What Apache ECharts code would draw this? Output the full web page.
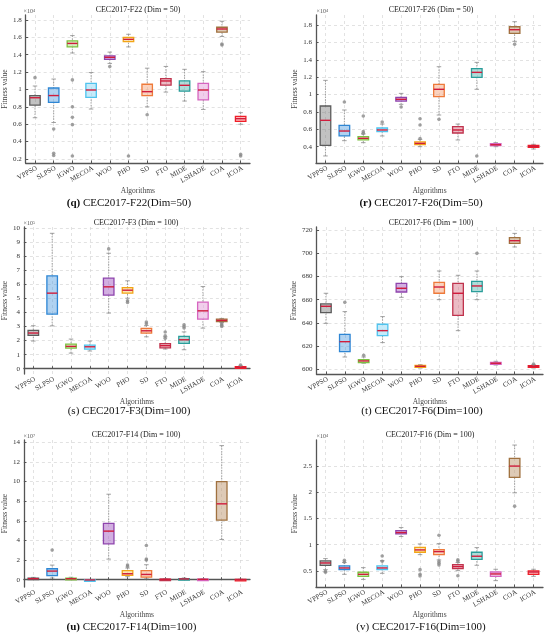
<!DOCTYPE html>
<html>
<head>
<meta charset="utf-8">
<script src="https://cdn.jsdelivr.net/npm/echarts@6/dist/echarts.min.js"></script>
<style>
  html, body { margin: 0; padding: 0; background: #fff; }
  #chart { width: 550px; height: 639px; }
</style>
</head>
<body>
<div id="chart"></div>
<script>
// algorithm names, x axis categories
var algorithms = ['VPPSO', 'SLPSO', 'IGWO', 'MECOA', 'WOO', 'PHO', 'SD', 'FTO', 'MIDE', 'LSHADE', 'COA', 'ICOA'];
var algoPos = [1, 2, 3, 4, 5, 6, 7, 8, 9, 10, 11, 12];

// box stats per algorithm: [lower whisker, Q1, median, Q3, upper whisker]
var f22Stats = [
  [0.675, 0.82, 0.905, 0.93, 1.04], [0.62, 0.852, 0.93, 1.017, 1.12], [1.42, 1.49, 1.53, 1.56, 1.62],
  [0.775, 0.91, 0.994, 1.07, 1.195], [1.30, 1.347, 1.37, 1.386, 1.43], [1.49, 1.55, 1.577, 1.60, 1.635],
  [0.80, 0.93, 0.975, 1.06, 1.245], [0.97, 1.05, 1.098, 1.125, 1.265], [0.867, 0.98, 1.048, 1.10, 1.232],
  [0.77, 0.88, 0.994, 1.07, 1.205], [1.61, 1.66, 1.696, 1.716, 1.785], [0.60, 0.633, 0.664, 0.69, 0.733]
];
var f22Outliers = [[1, 1.136], [2, 0.545], [2, 0.265], [2, 0.24], [3, 1.11], [3, 0.80], [3, 0.68], [3, 0.595],
  [3, 0.234], [5, 1.263], [6, 0.234], [7, 0.71], [11, 1.524], [11, 1.512], [12, 0.253], [12, 0.234]];
var f22Ticks = [0.2, 0.4, 0.6, 0.8, 1, 1.2, 1.4, 1.6, 1.8];

var f26Stats = [
  [0.293, 0.415, 0.703, 0.868, 1.163], [0.469, 0.523, 0.58, 0.645, 0.822], [0.446, 0.477, 0.496, 0.515, 0.546],
  [0.523, 0.573, 0.592, 0.615, 0.66], [0.887, 0.925, 0.945, 0.968, 1.013], [0.40, 0.423, 0.438, 0.454, 0.484],
  [0.764, 0.975, 1.06, 1.117, 1.32], [0.477, 0.557, 0.592, 0.63, 0.66], [1.06, 1.198, 1.255, 1.297, 1.37],
  [0.40, 0.411, 0.422, 0.434, 0.446], [1.612, 1.704, 1.746, 1.78, 1.838], [0.373, 0.392, 0.404, 0.415, 0.427]
];
var f26Outliers = [[2, 0.914], [3, 0.753], [3, 0.573], [3, 0.553], [4, 0.684], [5, 0.856], [6, 0.722], [6, 0.65],
  [6, 0.492], [7, 0.714], [9, 0.293], [11, 1.578]];
var f26Ticks = [0.4, 0.6, 0.8, 1, 1.2, 1.4, 1.6, 1.8];

var f3Stats = [
  [1.97, 2.37, 2.54, 2.73, 3.06], [3.05, 3.89, 5.38, 6.61, 9.64], [1.11, 1.47, 1.59, 1.75, 2.11],
  [1.26, 1.40, 1.56, 1.68, 1.97], [3.96, 5.24, 5.83, 6.45, 8.22], [5.02, 5.38, 5.59, 5.78, 6.26],
  [2.27, 2.54, 2.70, 2.87, 3.08], [1.40, 1.49, 1.64, 1.78, 2.27], [1.35, 1.80, 2.06, 2.30, 2.62],
  [2.89, 3.53, 4.12, 4.74, 5.85], [3.29, 3.36, 3.44, 3.53, 3.58], [0.02, 0.05, 0.095, 0.14, 0.21]
];
var f3Outliers = [[5, 8.53], [6, 4.83], [6, 4.72], [7, 3.32], [7, 3.2], [8, 2.61], [8, 2.35], [8, 2.16],
  [9, 3.13], [9, 3.01], [9, 2.9], [11, 3.2], [11, 3.1], [11, 3.0], [12, 0.26]];
var f3Ticks = [0, 1, 2, 3, 4, 5, 6, 7, 8, 9, 10];

var f6Stats = [
  [639.6, 648.8, 654.3, 656.3, 665.5], [610.6, 615.2, 623.8, 630.1, 649.7], [605.2, 605.7, 607.2, 608.3, 610.6],
  [623, 629, 633.3, 638.8, 645.4], [662, 666.6, 669.8, 674.1, 679.8], [601.1, 601.7, 602.6, 603.4, 604],
  [660, 665.5, 670.9, 674.9, 684.7], [633.3, 646.5, 665.5, 674, 681], [660, 666.9, 671.8, 675.8, 684.7],
  [603.7, 604.3, 605.2, 606, 606.9], [705.4, 708.5, 710.8, 713.4, 717.1], [601.1, 601.7, 602.6, 603.2, 604]
];
var f6Outliers = [[2, 657.7], [3, 612], [9, 699.9], [12, 604.6]];
var f6Ticks = [600, 620, 640, 660, 680, 700, 720];

var f14Stats = [
  [0.03, 0.07, 0.11, 0.16, 0.24], [0.17, 0.41, 0.88, 1.12, 1.49], [0.02, 0.06, 0.1, 0.15, 0.25],
  [-0.06, -0.04, -0.02, 0.0, 0.02], [2.1, 3.66, 4.95, 5.73, 8.71], [0.31, 0.44, 0.61, 0.92, 1.19],
  [0.1, 0.27, 0.54, 0.92, 1.53], [0.0, 0.02, 0.04, 0.07, 0.1], [0.02, 0.05, 0.08, 0.12, 0.18],
  [0.0, 0.02, 0.04, 0.07, 0.1], [4.1, 6.07, 7.73, 10.0, 13.66], [-0.03, -0.01, 0.01, 0.03, 0.05]
];
var f14Outliers = [[2, 3.02], [6, 1.49], [6, 1.36], [7, 3.49], [7, 2.1], [7, 2.0]];
var f14Ticks = [0, 2, 4, 6, 8, 10, 12, 14];

var f16Stats = [
  [0.525, 0.608, 0.652, 0.69, 0.735], [0.436, 0.525, 0.557, 0.595, 0.66], [0.34, 0.398, 0.436, 0.475, 0.563],
  [0.455, 0.525, 0.557, 0.595, 0.697], [1.154, 1.205, 1.23, 1.268, 1.325], [0.81, 0.856, 0.9, 0.95, 1.014],
  [0.71, 0.81, 0.868, 0.906, 1.02], [0.506, 0.544, 0.583, 0.62, 0.66], [0.608, 0.722, 0.78, 0.856, 0.944],
  [0.316, 0.398, 0.443, 0.48, 0.532], [1.986, 2.278, 2.494, 2.64, 2.894], [0.398, 0.436, 0.48, 0.5, 0.532]
];
var f16Outliers = [[1, 0.494], [1, 0.475], [2, 0.703], [2, 0.67], [4, 0.785], [4, 0.684], [6, 0.525], [6, 0.436],
  [6, 0.405], [7, 1.18], [7, 0.678], [7, 0.646], [7, 0.614], [8, 0.71], [8, 0.69], [8, 0.41], [11, 1.732]];
var f16Ticks = [0.5, 1, 1.5, 2, 2.5];

// box colours: border, fill
var boxLine = ['#5c5c5c', '#2e86d4', '#7cc242', '#4fc3ee', '#8e44ad', '#f2a516', '#ee7a3a', '#c0334d',
  '#2a9d9a', '#d665c0', '#a0713f', '#f01e28'];
var boxFill = ['rgba(120,120,120,0.45)', 'rgba(80,155,225,0.45)', 'rgba(175,220,130,0.5)', 'rgba(140,215,245,0.5)',
  'rgba(165,95,195,0.5)', 'rgba(250,205,110,0.5)', 'rgba(245,165,125,0.5)', 'rgba(210,105,125,0.45)',
  'rgba(95,185,180,0.5)', 'rgba(230,165,220,0.55)', 'rgba(190,150,110,0.5)', 'rgba(255,115,115,0.5)'];

var FONT = 'Liberation Serif';

var panels = [
  { stats: f22Stats, out: f22Outliers, ticks: f22Ticks, min: 0.154, max: 1.857, exp: '×10⁴',
    title: 'CEC2017-F22 (Dim = 50)', tag: 'q', cap: ' CEC2017-F22(Dim=50)', bold: true,
    grid: [23, 15, 227, 148], tx: 138, ty: 10, cx: 129, cy: 203 },
  { stats: f26Stats, out: f26Outliers, ticks: f26Ticks, min: 0.212, max: 1.915, exp: '×10⁴',
    title: 'CEC2017-F26 (Dim = 50)', tag: 'r', cap: ' CEC2017-F26(Dim=50)', bold: true,
    grid: [316, 15, 227, 148], tx: 431, ty: 10, cx: 421, cy: 203 },
  { stats: f3Stats, out: f3Outliers, ticks: f3Ticks, min: -0.377, max: 10.09, exp: '×10⁵',
    title: 'CEC2017-F3 (Dim = 100)', tag: 's', cap: ' CEC2017-F3(Dim=100)', bold: false,
    grid: [23, 227, 227, 147], tx: 136, ty: 222.5, cx: 129, cy: 411.5 },
  { stats: f6Stats, out: f6Outliers, ticks: f6Ticks, min: 595.95, max: 722.6, exp: '',
    title: 'CEC2017-F6 (Dim = 100)', tag: 't', cap: ' CEC2017-F6(Dim=100)', bold: false,
    grid: [316.5, 227, 226.5, 147], tx: 431, ty: 222.5, cx: 422, cy: 411 },
  { stats: f14Stats, out: f14Outliers, ticks: f14Ticks, min: -0.74, max: 14.23, exp: '×10⁷',
    title: 'CEC2017-F14 (Dim = 100)', tag: 'u', cap: ' CEC2017-F14(Dim=100)', bold: true,
    grid: [23, 440, 227, 147], tx: 136, ty: 435, cx: 131.5, cy: 627 },
  { stats: f16Stats, out: f16Outliers, ticks: f16Ticks, min: 0.195, max: 2.99, exp: '×10⁴',
    title: 'CEC2017-F16 (Dim = 100)', tag: 'v', cap: ' CEC2017-F16(Dim=100)', bold: false,
    grid: [316, 440, 227, 147], tx: 430, ty: 435, cx: 421, cy: 627 }
];

function renderBox(params, api) {
  var x = api.value(0);
  var lo = api.coord([x, api.value(1)]);
  var q1 = api.coord([x, api.value(2)]);
  var md = api.coord([x, api.value(3)]);
  var q3 = api.coord([x, api.value(4)]);
  var hi = api.coord([x, api.value(5)]);
  var bw = api.size([0.56, 0])[0];
  var cw = api.size([0.24, 0])[0];
  var i = x - 1;
  var whisk = { stroke: '#8a8a8a', lineWidth: 0.8, lineDash: [1.5, 1.2] };
  var cap = { stroke: '#8a8a8a', lineWidth: 0.8 };
  return {
    type: 'group',
    children: [
      { type: 'line', shape: { x1: hi[0], y1: hi[1], x2: q3[0], y2: q3[1] }, style: whisk },
      { type: 'line', shape: { x1: lo[0], y1: lo[1], x2: q1[0], y2: q1[1] }, style: whisk },
      { type: 'line', shape: { x1: hi[0] - cw / 2, y1: hi[1], x2: hi[0] + cw / 2, y2: hi[1] }, style: cap },
      { type: 'line', shape: { x1: lo[0] - cw / 2, y1: lo[1], x2: lo[0] + cw / 2, y2: lo[1] }, style: cap },
      { type: 'rect', shape: { x: q3[0] - bw / 2, y: q3[1], width: bw, height: Math.max(q1[1] - q3[1], 1.5) },
        style: { fill: boxFill[i], stroke: boxLine[i], lineWidth: 1.3 } },
      { type: 'line', shape: { x1: md[0] - bw / 2, y1: md[1], x2: md[0] + bw / 2, y2: md[1] },
        style: { stroke: '#d01c3c', lineWidth: 1.4 } }
    ]
  };
}

var myChart = echarts.init(document.getElementById('chart'));
var option = {
  backgroundColor: '#fff',
  animation: false,
  grid: [], xAxis: [], yAxis: [], series: [], graphic: []
};

var gridLine = { show: true, lineStyle: { type: [3, 3], color: '#d6d6d6', width: 0.7 } };

panels.forEach(function (p, k) {
  option.grid.push({ left: p.grid[0], top: p.grid[1], width: p.grid[2], height: p.grid[3] });
  option.xAxis.push({
    gridIndex: k, type: 'value', min: 0.5, max: 12.5,
    name: 'Algorithms', nameLocation: 'middle', nameGap: 23,
    nameTextStyle: { fontFamily: FONT, fontSize: 7.5, color: '#444' },
    axisLine: { lineStyle: { color: '#555', width: 1.3 } },
    axisTick: { inside: true, length: 2.5, lineStyle: { color: '#555' }, customValues: algoPos },
    axisLabel: {
      rotate: 30, margin: 1.5, fontFamily: FONT, fontSize: 7, color: '#333',
      align: 'right', verticalAlign: 'top',
      customValues: algoPos,
      formatter: function (v) { return algorithms[Math.round(v) - 1]; }
    },
    splitLine: gridLine
  });
  option.yAxis.push({
    gridIndex: k, type: 'value', min: p.min, max: p.max,
    name: 'Fitness value', nameLocation: 'middle', nameGap: k % 2 === 0 ? 12 : 14,
    nameTextStyle: { fontFamily: FONT, fontSize: 7.5, color: '#444' },
    axisLine: { show: true, lineStyle: { color: '#555', width: 1.3 } },
    axisTick: { show: true, inside: true, length: 2.5, lineStyle: { color: '#555' }, customValues: p.ticks },
    axisLabel: { margin: 4, fontFamily: FONT, fontSize: 7, color: '#333', customValues: p.ticks },
    splitLine: gridLine
  });
  option.series.push({
    type: 'custom', xAxisIndex: k, yAxisIndex: k,
    renderItem: renderBox,
    encode: { x: 0, y: [1, 2, 3, 4, 5] },
    data: p.stats.map(function (s, i) { return [i + 1].concat(s); }),
    z: 2
  });
  option.series.push({
    type: 'scatter', xAxisIndex: k, yAxisIndex: k,
    symbolSize: 3.6,
    itemStyle: { color: '#8a8a8a' },
    data: p.out,
    z: 3
  });
  option.graphic.push({
    type: 'text', x: p.tx, y: p.ty,
    style: { text: p.title, font: '8px "' + FONT + '"', fill: '#222', textAlign: 'center', textVerticalAlign: 'middle' }
  });
  if (p.exp) {
    option.graphic.push({
      type: 'text', x: p.grid[0] + 0.5, y: p.ty + 1,
      style: { text: p.exp, font: '6px "' + FONT + '"', fill: '#555', textAlign: 'left', textVerticalAlign: 'middle' }
    });
  }
  option.graphic.push({
    type: 'text', x: p.cx, y: p.cy,
    style: {
      text: '{t|(' + p.tag + ')}{c|' + p.cap + '}',
      textAlign: 'center', textVerticalAlign: 'middle',
      rich: {
        t: { fontFamily: FONT, fontSize: 11, fontWeight: p.bold ? 'bold' : 'normal', fill: '#111' },
        c: { fontFamily: FONT, fontSize: 11, fill: '#111' }
      }
    }
  });
});

myChart.setOption(option);
</script>
</body>
</html>
